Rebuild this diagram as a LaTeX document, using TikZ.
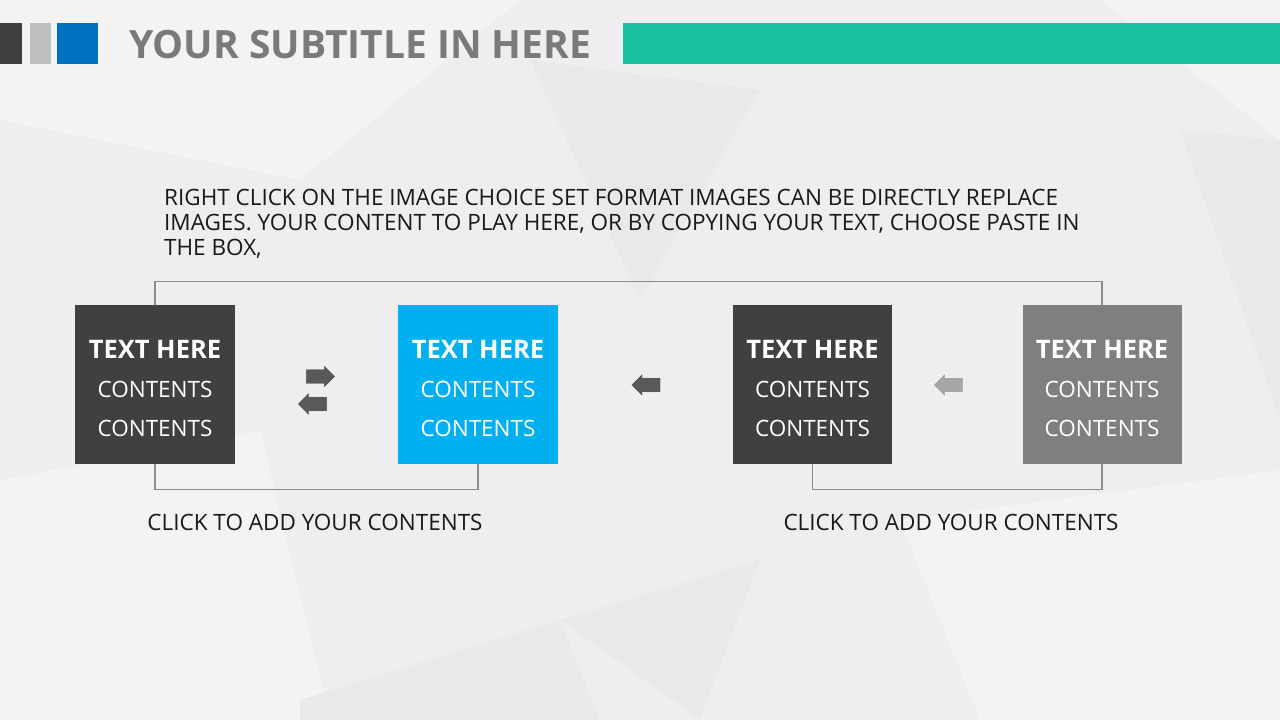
\documentclass[tikz,border=0pt]{standalone}
\usepackage{fontspec}
\setmainfont{Open Sans}
\usetikzlibrary{shapes.arrows}
\definecolor{bgc}{HTML}{EEEEF0}
\definecolor{bglight}{HTML}{F3F3F4}
\definecolor{bgdark}{HTML}{E9E9EB}
\definecolor{darkbox}{HTML}{404040}
\definecolor{bluebox}{HTML}{00B0F0}
\definecolor{graybox}{HTML}{7F7F7F}
\definecolor{tealbar}{HTML}{1CC1A4}
\definecolor{sqdark}{HTML}{3F3F3F}
\definecolor{sqgray}{HTML}{BFBFBF}
\definecolor{sqblue}{HTML}{0070C0}
\definecolor{titlegray}{HTML}{7A7A7A}
\definecolor{linegray}{HTML}{8C8C8C}
\definecolor{arrdark}{HTML}{595959}
\definecolor{arrlight}{HTML}{A6A6A6}
\tikzset{
  card/.style={minimum width=160pt, minimum height=159pt, inner sep=0pt},
  cardtext/.style={text=white, align=center, inner sep=0pt, font=\fontsize{22.5}{39}\selectfont},
  sq/.style={minimum width=#1, minimum height=41pt, inner sep=0pt, anchor=north west},
  blockarrow/.style={single arrow, draw=white, line width=0.6pt, inner sep=0pt, minimum width=24pt,
    minimum height=30pt, single arrow head extend=4.5pt, single arrow head indent=0pt, text height=14pt},
  link/.style={draw=linegray, line width=1.2pt},
  caption/.style={font=\fontsize{22.5}{26}\selectfont, text=black!90}
}
\newcommand{\hd}{\fontsize{25.5}{39}\selectfont\bfseries TEXT HERE}
\begin{document}
\begin{tikzpicture}[x=1pt,y=-1pt]
\useasboundingbox (0,0) rectangle (1280,720);
% background
\fill[bgc] (0,0) rectangle (1280,720);
\fill[bglight] (0,0) -- (520,0) -- (300,180) -- (0,120) -- cycle;
\fill[bgdark] (530,60) -- (760,90) -- (640,300) -- cycle;
\fill[bglight] (1100,0) -- (1280,0) -- (1280,140) -- cycle;
\fill[bgdark] (1180,130) -- (1280,140) -- (1280,420) -- cycle;
\fill[bglight] (0,480) -- (260,430) -- (330,720) -- (0,720) -- cycle;
\fill[bgdark] (560,620) -- (760,560) -- (700,720) -- cycle;
\fill[bglight] (900,520) -- (1280,470) -- (1280,720) -- (980,720) -- cycle;
\fill[bgdark] (300,700) -- (560,620) -- (600,720) -- (300,720) -- cycle;
% header
\node[sq=22pt, fill=sqdark] (s1) at (0,23) {};
\node[sq=21pt, fill=sqgray] (s2) at (30,23) {};
\node[sq=41pt, fill=sqblue] (s3) at (57,23) {};
\node[anchor=base west, inner sep=0pt, text=titlegray, font=\bfseries\fontsize{39}{44}\selectfont] (title) at (129,58) {YOUR SUBTITLE IN HERE};
\node[sq=657pt, fill=tealbar] (bar) at (623,23) {};
% paragraph
\node[anchor=north west, inner sep=0pt, align=left, text=black!90, font=\fontsize{22.5}{25.2}\selectfont] (para) at (164,189)
  {RIGHT CLICK ON THE IMAGE CHOICE SET FORMAT IMAGES CAN BE DIRECTLY REPLACE\\
   IMAGES. YOUR CONTENT TO PLAY HERE, OR BY COPYING YOUR TEXT, CHOOSE PASTE IN\\
   THE BOX,};
% card centres
\coordinate (c1) at (155,384.5);
\coordinate (c2) at (478,384.5);
\coordinate (c3) at (812.5,384.5);
\coordinate (c4) at (1102,384.5);
% cards
\node[card, fill=darkbox] (b1) at (c1) {};
\node[card, fill=bluebox] (b2) at (c2) {};
\node[card, fill=darkbox, minimum width=159pt] (b3) at (c3) {};
\node[card, fill=graybox, minimum width=159pt] (b4) at (c4) {};
\node[cardtext] (t1) at ([yshift=-4pt]b1.center) {\hd\\CONTENTS\\CONTENTS};
\node[cardtext] (t2) at ([yshift=-4pt]b2.center) {\hd\\CONTENTS\\CONTENTS};
\node[cardtext] (t3) at ([yshift=-4pt]b3.center) {\hd\\CONTENTS\\CONTENTS};
\node[cardtext] (t4) at ([yshift=-4pt]b4.center) {\hd\\CONTENTS\\CONTENTS};
% connectors
\draw[link] (b1.north) -- ++(0,-23) -| (b4.north);
\draw[link] (b1.south) -- ++(0,25) -| (b2.south);
\draw[link] (b3.south) -- ++(0,25) -| (b4.south);
% arrows
\node[blockarrow, fill=arrdark] (a1) at (317,376.5) {};
\node[blockarrow, fill=arrdark, shape border rotate=180] (a2) at (316,404) {};
\node[blockarrow, fill=arrdark, shape border rotate=180] (a3) at (649.5,385) {};
\node[blockarrow, fill=arrlight, shape border rotate=180] (a4) at (952,385) {};
% captions
\node[caption] (cap1) at (315,522) {CLICK TO ADD YOUR CONTENTS};
\node[caption] (cap2) at (951,522) {CLICK TO ADD YOUR CONTENTS};
\end{tikzpicture}
\end{document}
